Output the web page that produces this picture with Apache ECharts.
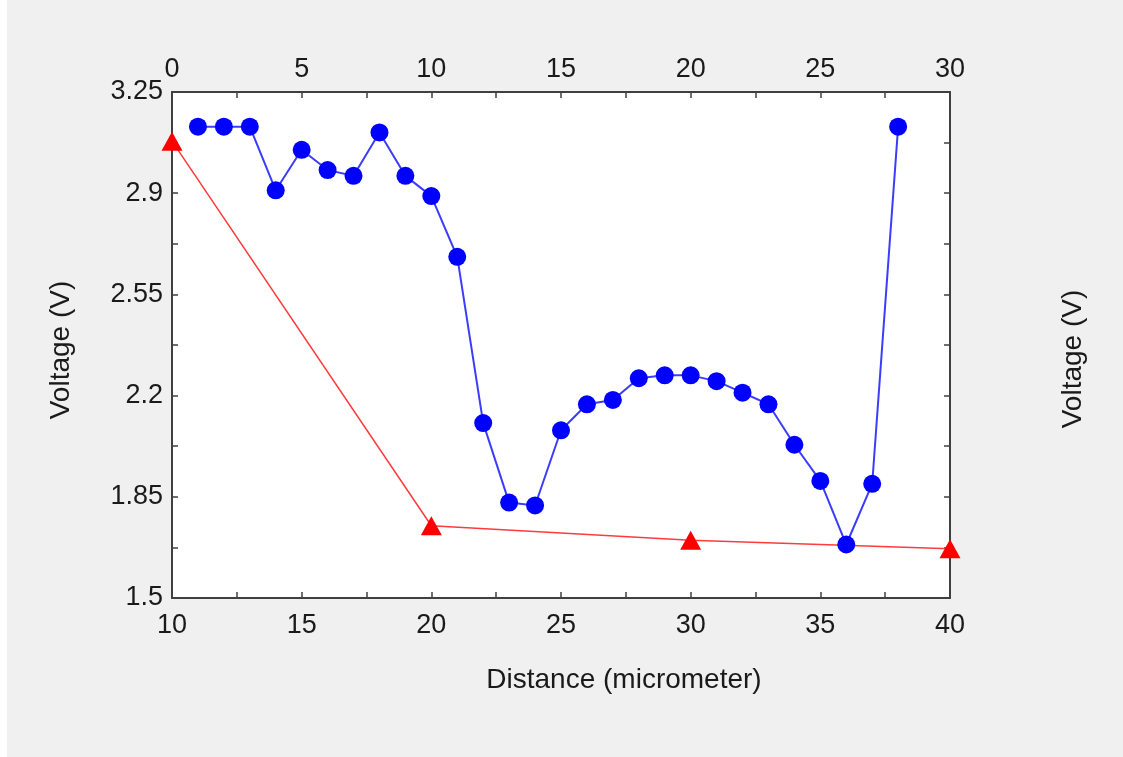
<!DOCTYPE html>
<html>
<head>
<meta charset="utf-8">
<script src="https://cdn.jsdelivr.net/npm/echarts@6/dist/echarts.min.js"></script>
<style>
    html, body {margin: 0; padding: 0; background: #f0f0f0;}
    #chart {width: 1123px; height: 757px;}
</style>
</head>
<body>
<div id="chart"></div>
<script>
    // top axis (0 - 30) series
    var blueX = [1, 2, 3, 4, 5, 6, 7, 8, 9, 10, 11, 12, 13, 14, 15, 16, 17, 18, 19, 20, 21, 22, 23, 24, 25, 26, 27, 28];
    var blueY = [3.13, 3.13, 3.13, 2.91, 3.05, 2.98, 2.96, 3.11, 2.96, 2.89, 2.68, 2.105, 1.83, 1.82,
        2.08, 2.17, 2.185, 2.26, 2.27, 2.27, 2.25, 2.21, 2.17, 2.03, 1.905, 1.685, 1.895, 3.13];
    // bottom axis (10 - 40) series
    var redX = [10, 20, 30, 40];
    var redY = [3.08, 1.75, 1.70, 1.67];

    var bottomTicks = {min: 10, max: 40, interval: 5};
    var topTicks = {min: 0, max: 30, interval: 5};
    var voltTicks = {min: 1.5, max: 3.25, interval: 0.35};

    var font = 'Arial, "Liberation Sans", sans-serif';
    var axisColor = '#404040';

    function pairs(xs, ys) {
        return xs.map(function (x, i) {
            return [x, ys[i]];
        });
    }

    function axisStyle(showLabel, margin, namePadding) {
        return {
            axisLine: {show: true, onZero: false, lineStyle: {color: axisColor, width: 2}},
            axisTick: {show: true, inside: true, length: 6, lineStyle: {color: axisColor, width: 1.5}},
            minorTick: {show: true, splitNumber: 2, length: 6, lineStyle: {color: axisColor, width: 1.5}},
            splitLine: {show: false},
            axisLabel: {
                show: showLabel, fontSize: 27, fontFamily: font, color: '#1a1a1a', margin: margin,
                showMinLabel: true, showMaxLabel: true, hideOverlap: false,
                formatter: function (v) { return String(+v.toFixed(2)); }
            },
            nameTextStyle: {fontSize: 28, fontFamily: font, color: '#1a1a1a', padding: namePadding || 0}
        };
    }

    var chart = echarts.init(document.getElementById('chart'), null, {renderer: 'canvas'});

    var option = {
        backgroundColor: '#f0f0f0',
        animation: false,
        graphic: [
            {type: 'rect', left: 0, top: 0, shape: {width: 7, height: 757}, style: {fill: '#ffffff'}}
        ],
        grid: {
            left: 172, right: 173, top: 92, bottom: 159,
            show: true, backgroundColor: '#ffffff', borderWidth: 0,
            containLabel: false, outerBoundsMode: 'none'
        },
        xAxis: [
            Object.assign({
                type: 'value', position: 'bottom',
                min: bottomTicks.min, max: bottomTicks.max, interval: bottomTicks.interval,
                name: 'Distance (micrometer)', nameLocation: 'middle', nameGap: 68
            }, axisStyle(true, 14, [0, 0, 0, 126])),
            Object.assign({
                type: 'value', position: 'top',
                min: topTicks.min, max: topTicks.max, interval: topTicks.interval
            }, axisStyle(true, 9))
        ],
        yAxis: [
            Object.assign({
                type: 'value', position: 'left',
                min: voltTicks.min, max: voltTicks.max, interval: voltTicks.interval,
                name: 'Voltage (V)', nameLocation: 'middle', nameGap: 97, nameRotate: 90
            }, axisStyle(true, 9, [0, 10, 0, 0])),
            Object.assign({
                type: 'value', position: 'right',
                min: voltTicks.min, max: voltTicks.max, interval: voltTicks.interval,
                name: 'Voltage (V)', nameLocation: 'middle', nameGap: 109, nameRotate: 90
            }, axisStyle(false, 9, [0, 28, 0, 0]))
        ],
        series: [
            {
                name: 'lower',
                type: 'line',
                xAxisIndex: 0,
                yAxisIndex: 0,
                data: pairs(redX, redY),
                symbol: 'triangle',
                symbolSize: [21, 19],
                itemStyle: {color: '#ff0000'},
                lineStyle: {color: '#ff3b3b', width: 1.5},
                z: 2
            },
            {
                name: 'upper',
                type: 'line',
                xAxisIndex: 1,
                yAxisIndex: 0,
                data: pairs(blueX, blueY),
                symbol: 'circle',
                symbolSize: 18,
                itemStyle: {color: '#0000ff'},
                lineStyle: {color: '#3c3cff', width: 2},
                z: 3
            }
        ]
    };
    chart.setOption(option);
</script>
</body>
</html>
